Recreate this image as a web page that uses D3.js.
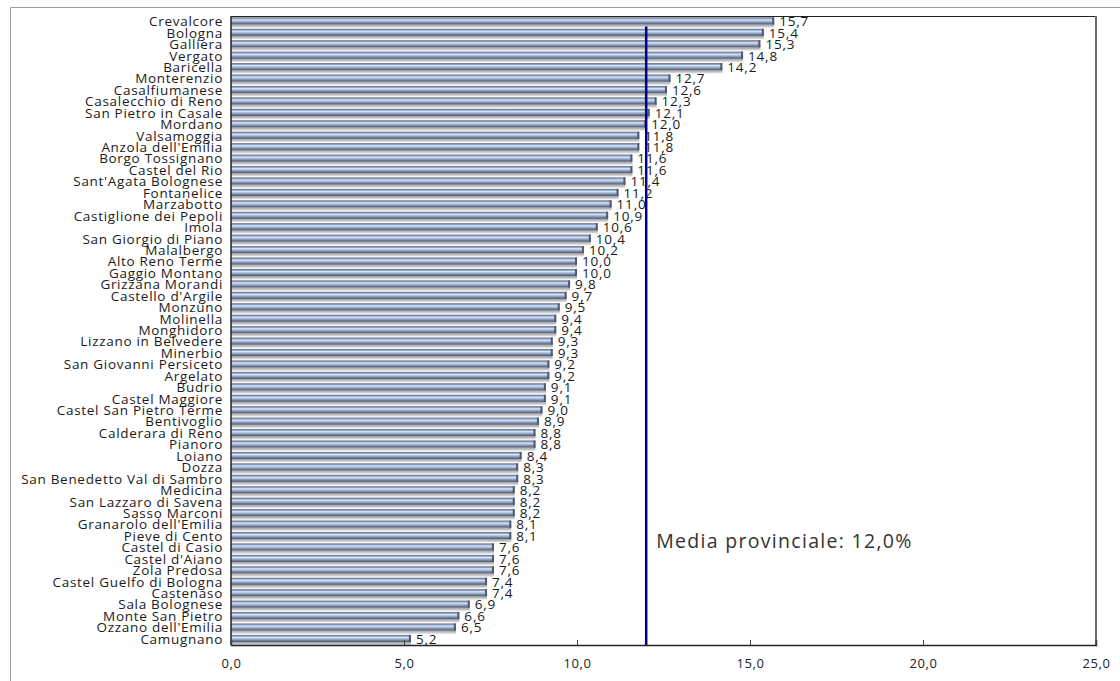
<!DOCTYPE html>
<html>
<head>
<meta charset="utf-8">
<script src="https://cdn.jsdelivr.net/npm/d3@7"></script>
<style>
  html, body { margin: 0; padding: 0; background: #fff; }
  svg { display: block; }
  text { font-family: "Open Sans", "Noto Sans", sans-serif; }
</style>
</head>
<body>
<svg id="chart" width="1120" height="681"></svg>
<script>
// Comuni della provincia di Bologna, ordinati per valore decrescente
const comuni = [
  "Crevalcore", "Bologna", "Galliera", "Vergato", "Baricella", "Monterenzio",
  "Casalfiumanese", "Casalecchio di Reno", "San Pietro in Casale", "Mordano",
  "Valsamoggia", "Anzola dell'Emilia", "Borgo Tossignano", "Castel del Rio",
  "Sant'Agata Bolognese", "Fontanelice", "Marzabotto", "Castiglione dei Pepoli",
  "Imola", "San Giorgio di Piano", "Malalbergo", "Alto Reno Terme", "Gaggio Montano",
  "Grizzana Morandi", "Castello d'Argile", "Monzuno", "Molinella", "Monghidoro",
  "Lizzano in Belvedere", "Minerbio", "San Giovanni Persiceto", "Argelato", "Budrio",
  "Castel Maggiore", "Castel San Pietro Terme", "Bentivoglio", "Calderara di Reno",
  "Pianoro", "Loiano", "Dozza", "San Benedetto Val di Sambro", "Medicina",
  "San Lazzaro di Savena", "Sasso Marconi", "Granarolo dell'Emilia", "Pieve di Cento",
  "Castel di Casio", "Castel d'Aiano", "Zola Predosa", "Castel Guelfo di Bologna",
  "Castenaso", "Sala Bolognese", "Monte San Pietro", "Ozzano dell'Emilia", "Camugnano"
];

const valori = [
  15.7, 15.4, 15.3, 14.8, 14.2, 12.7, 12.6, 12.3, 12.1, 12.0,
  11.8, 11.8, 11.6, 11.6, 11.4, 11.2, 11.0, 10.9, 10.6, 10.4,
  10.2, 10.0, 10.0, 9.8, 9.7, 9.5, 9.4, 9.4, 9.3, 9.3,
  9.2, 9.2, 9.1, 9.1, 9.0, 8.9, 8.8, 8.8, 8.4, 8.3,
  8.3, 8.2, 8.2, 8.2, 8.1, 8.1, 7.6, 7.6, 7.6, 7.4,
  7.4, 6.9, 6.6, 6.5, 5.2
];

const xTicks = [0, 5, 10, 15, 20, 25];
const mediaProvinciale = 12.0;
const mediaEtichetta = "Media provinciale: 12,0%";

const rows = comuni.map((c, i) => ({ nome: c, valore: valori[i] }));

const svg = d3.select("#chart");
const margin = { left: 231, right: 24, top: 16, bottom: 36 };
const W = 1120, H = 681;

const x = d3.scaleLinear().domain([0, 25]).range([margin.left, W - margin.right]);
const y = d3.scaleBand().domain(comuni).range([margin.top, H - margin.bottom]).padding(0);

const fmt = v => d3.format(".1f")(v).replace(".", ",");

// cornice esterna
svg.append("line").attr("x1", 10.5).attr("x2", W).attr("y1", 7.5).attr("y2", 7.5)
  .attr("stroke", "#a0a0a0").attr("stroke-width", 1);
svg.append("line").attr("x1", 10.5).attr("x2", 10.5).attr("y1", 7.5).attr("y2", H)
  .attr("stroke", "#a0a0a0").attr("stroke-width", 1);

// gradiente cilindrico delle barre
const defs = svg.append("defs");
const grad = defs.append("linearGradient").attr("id", "barGrad")
  .attr("x1", 0).attr("y1", 0).attr("x2", 0).attr("y2", 1);
[
  [0, "#56627c"], [0.18, "#8d9fc0"], [0.35, "#d6e5fa"], [0.55, "#a8bad8"],
  [0.8, "#6f7d99"], [1, "#4b566e"]
].forEach(([o, c]) => grad.append("stop").attr("offset", o).attr("stop-color", c));

const shadowGrad = defs.append("linearGradient").attr("id", "shadowGrad")
  .attr("x1", 0).attr("y1", 0).attr("x2", 0).attr("y2", 1);
[[0, "#9c9c9c"], [0.5, "#c4c4c4"], [1, "#eeeeee"]]
  .forEach(([o, c]) => shadowGrad.append("stop").attr("offset", o).attr("stop-color", c));

const bw = y.bandwidth();
const barH = bw * 0.62;
const barOff = bw * 0.12;

const g = svg.append("g");

// ombre
g.selectAll("rect.shadow").data(rows).join("rect")
  .attr("class", "shadow")
  .attr("x", x(0))
  .attr("y", d => y(d.nome) + barOff + barH)
  .attr("width", d => x(d.valore) - x(0))
  .attr("height", bw * 0.3)
  .attr("fill", "url(#shadowGrad)");

// barre
g.selectAll("rect.bar").data(rows).join("rect")
  .attr("class", "bar")
  .attr("x", x(0))
  .attr("y", d => y(d.nome) + barOff)
  .attr("width", d => x(d.valore) - x(0))
  .attr("height", barH)
  .attr("fill", "url(#barGrad)");

// testata della barra
g.selectAll("rect.cap").data(rows).join("rect")
  .attr("class", "cap")
  .attr("x", d => x(d.valore) - 2)
  .attr("y", d => y(d.nome) + barOff)
  .attr("width", 2)
  .attr("height", barH)
  .attr("fill", "#4e596f");

// etichette dei valori
g.selectAll("text.val").data(rows).join("text")
  .attr("class", "val")
  .attr("x", d => x(d.valore) + 5)
  .attr("y", d => y(d.nome) + bw / 2 + 4.5)
  .attr("font-size", 13.5)
  .attr("letter-spacing", 0.8)
  .attr("fill", "#1a1a1a")
  .text(d => fmt(d.valore));

// etichette dei comuni
svg.append("g").selectAll("text").data(rows).join("text")
  .attr("x", margin.left - 8)
  .attr("y", d => y(d.nome) + bw / 2 + 4.5)
  .attr("text-anchor", "end")
  .attr("font-size", 13.5)
  .attr("letter-spacing", 0.7)
  .attr("fill", "#1a1a1a")
  .text(d => d.nome);

// riquadro dell'area del grafico
const plotTop = margin.top, plotBottom = H - margin.bottom;
svg.append("line").attr("x1", x(0)).attr("x2", x(25)).attr("y1", plotTop + 0.5).attr("y2", plotTop + 0.5)
  .attr("stroke", "#222").attr("stroke-width", 1.2);
svg.append("line").attr("x1", x(25)).attr("x2", x(25)).attr("y1", plotTop).attr("y2", plotBottom)
  .attr("stroke", "#6a6a6a").attr("stroke-width", 2);
svg.append("line").attr("x1", x(0)).attr("x2", x(0)).attr("y1", plotTop).attr("y2", plotBottom)
  .attr("stroke", "#222").attr("stroke-width", 1.5);

// asse x
const xAxis = d3.axisBottom(x).tickValues(xTicks).tickFormat(fmt).tickSize(-5).tickPadding(14);
const ax = svg.append("g").attr("transform", `translate(0,${plotBottom})`).call(xAxis);
ax.select(".domain").attr("stroke", "#222").attr("stroke-width", 1.5);
ax.selectAll(".tick line").attr("stroke", "#444");
ax.selectAll(".tick text").attr("font-size", 13).attr("letter-spacing", 0.6).attr("fill", "#222")
  .attr("font-family", "\"Open Sans\", sans-serif");

// linea della media provinciale
svg.append("line")
  .attr("x1", x(mediaProvinciale)).attr("x2", x(mediaProvinciale))
  .attr("y1", y(comuni[1]) - 1).attr("y2", plotBottom)
  .attr("stroke", "#00008b").attr("stroke-width", 2.5);

svg.append("text")
  .attr("x", x(mediaProvinciale) + 10)
  .attr("y", 548)
  .attr("font-size", 19.5)
  .attr("letter-spacing", 1.3)
  .attr("fill", "#333")
  .text(mediaEtichetta);
</script>
</body>
</html>
